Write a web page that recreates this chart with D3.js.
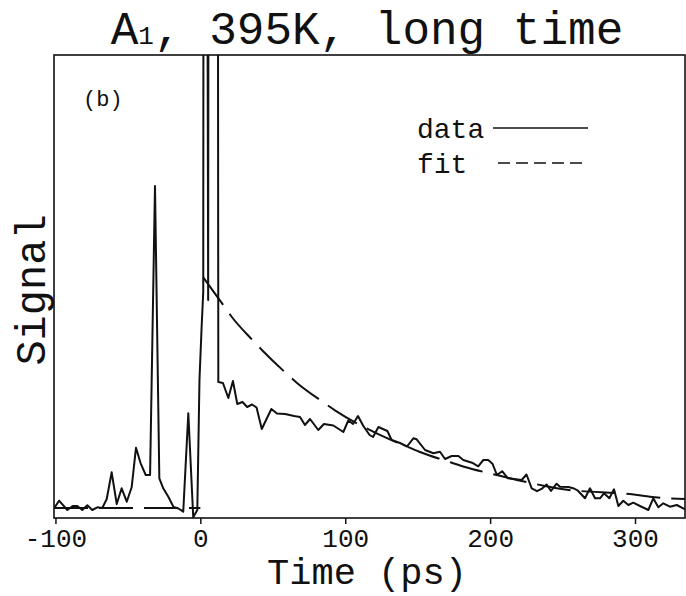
<!DOCTYPE html>
<html>
<head>
<meta charset="utf-8">
<script src="https://cdn.jsdelivr.net/npm/d3@7"></script>
<style>
  html, body { margin: 0; padding: 0; background: #fff; }
  svg { display: block; }
  text { font-family: "Liberation Mono", "DejaVu Sans Mono", monospace; fill: #111; }
</style>
</head>
<body>
<svg id="chart" width="686" height="596"></svg>
<script>
// ---- data ----
const dataTime = [-100.8,-97.5,-91.8,-88.1,-84.9,-81.5,-78.0,-74.6,-71.1,-67.7,-64.6,-61.2,-57.7,-54.3,-50.8,-47.4,-44.4,-41.2,-37.7,-34.7,-31.3,-28.3,-25.6,-22.1,-18.5,-15.1,-11.8,-8.3,-4.9,-2.1,-0.6,0.8,2.0,2.8,5.4,6.4,11.3,12.4,15.6,19.3,22.5,25.5,29.1,32.3,35.7,38.8,42.4,49.0,52.9,58.5,64.7,68.8,72.2,75.7,81.4,85.3,91.8,98.7,102.1,105.4,108.8,112.5,116.8,119.2,122.9,129.1,132.0,137.8,142.6,147.0,149.3,155.1,160.8,165.4,168.9,173.5,178.1,181.5,187.5,191.8,195.3,198.7,201.6,204.7,208.3,212.3,217.8,221.8,225.1,228.7,232.4,236.1,239.0,242.0,245.9,248.2,254.1,257.9,260.6,265.5,268.9,272.4,275.8,278.6,282.3,285.5,288.5,291.9,295.4,298.8,303.4,309.2,312.6,316.1,319.5,324.1,328.8,334.5];
const dataSignal = [0.0,0.73,-0.2,0.2,0.2,-0.2,0.27,-0.2,0.07,0.0,0.9,3.57,0.4,1.97,0.63,2.07,6.03,4.47,3.3,3.3,32.2,2.97,1.97,1.13,0.1,-0.05,-0.37,9.47,-0.93,-0.2,12.8,17.8,21.6,200,20.8,200,200,12.6,12.5,11.0,12.7,10.4,10.6,10.1,10.35,10.05,7.9,9.9,9.45,9.4,9.2,9.1,8.3,8.9,7.8,8.4,8.25,7.6,8.75,8.4,9.2,8.2,7.3,7.1,8.1,7.7,6.8,6.5,6.15,6.97,6.87,5.8,5.47,5.63,4.9,5.2,5.2,4.8,4.53,4.17,4.8,4.8,4.43,3.3,3.68,2.97,2.87,2.8,3.35,1.97,1.68,1.97,2.35,1.7,2.43,2.13,2.1,1.95,1.73,0.97,1.97,0.97,0.97,1.47,0.97,1.87,0.2,0.73,0.3,0.53,0.2,-0.2,0.97,0.07,0.47,0.13,0.3,-0.13];

const fitTime   = [-101, 0, null, 2.0, 15.8, 21.2, 36.6, 43.0, 60.0, 66.5, 85.3, 92.9, 112.5, 121.7, 142.8, 151.1, 173.5, 182.7, 204.5, 213.7, 237.9, 246.0, 301.5, 310.3, 334.5];
const fitSignal = [0, 0, null, 23.07, 20.3, 19.2, 16.7, 15.73, 13.37, 12.53, 10.53, 9.77, 8.13, 7.47, 6.13, 5.63, 4.53, 4.1, 3.3, 2.97, 2.2, 1.97, 1.3, 1.13, 0.9];

const xTickValues = [-100, 0, 100, 200, 300];
const xTickLabels = ["-100", "0", "100", "200", "300"];
const titleMain = "A";
const titleSub = "1";
const titleRest = ", 395K, long time";
const xTitle = "Time (ps)";
const yTitle = "Signal";
const panelLabel = "(b)";
const legendNames = ["data", "fit"];

// ---- layout ----
const svg = d3.select("#chart");
const L = 54, R = 685, T = 55, B = 518;

const x = d3.scaleLinear().domain([-101, 334.5]).range([L, R]);
const y = d3.scaleLinear().domain([-1, 45.3]).range([B, T]);

svg.append("defs").append("clipPath").attr("id", "plotclip")
  .append("rect").attr("x", L).attr("y", T).attr("width", R - L).attr("height", B - T);

const dataPts = dataTime.map((t, i) => ({ t, v: dataSignal[i] }));
const fitPts = fitTime.map((t, i) => ({ t, v: fitSignal[i] }));

const plot = svg.append("g").attr("clip-path", "url(#plotclip)");

const fitLine = d3.line()
  .defined(d => d.t !== null && d.v !== null)
  .x(d => x(d.t)).y(d => y(d.v))
  .curve(d3.curveMonotoneX);

plot.append("path")
  .datum(fitPts)
  .attr("d", fitLine)
  .attr("fill", "none")
  .attr("stroke", "#111")
  .attr("stroke-width", 2)
  .attr("stroke-dasharray", "34,11");

const dataLine = d3.line().x(d => x(d.t)).y(d => y(d.v));
plot.append("path")
  .datum(dataPts)
  .attr("d", dataLine)
  .attr("fill", "none")
  .attr("stroke", "#111")
  .attr("stroke-width", 2)
  .attr("stroke-linejoin", "round");

// frame
svg.append("rect")
  .attr("x", L).attr("y", T).attr("width", R - L).attr("height", B - T)
  .attr("fill", "none").attr("stroke", "#111").attr("stroke-width", 1.6);

// x axis
const xAxis = d3.axisBottom(x)
  .tickValues(xTickValues)
  .tickFormat((d, i) => xTickLabels[i])
  .tickSize(6)
  .tickSizeOuter(0)
  .tickPadding(5);
const gx = svg.append("g").attr("transform", `translate(0,${B})`).call(xAxis);
gx.select(".domain").remove();
gx.selectAll(".tick line").attr("stroke", "#111").attr("stroke-width", 1.5);
gx.selectAll(".tick text")
  .attr("font-family", "Liberation Mono, DejaVu Sans Mono, monospace")
  .attr("font-size", 26).attr("fill", "#111");

// titles
const title = svg.append("text")
  .attr("x", 367).attr("y", 44)
  .attr("text-anchor", "middle")
  .attr("font-size", 46);
title.append("tspan").text(titleMain);
title.append("tspan").attr("font-size", 26).text(titleSub);
title.append("tspan").text(titleRest);

svg.append("text")
  .attr("x", 367).attr("y", 584)
  .attr("text-anchor", "middle")
  .attr("font-size", 37)
  .text(xTitle);

svg.append("text")
  .attr("transform", "translate(45,290) rotate(-90)")
  .attr("text-anchor", "middle")
  .attr("font-size", 42)
  .text(yTitle);

svg.append("text")
  .attr("x", 83).attr("y", 106)
  .attr("font-size", 22)
  .text(panelLabel);

// legend
const lg = svg.append("g");
lg.append("text").attr("x", 417).attr("y", 138).attr("font-size", 28).text(legendNames[0]);
lg.append("line").attr("x1", 493).attr("x2", 588).attr("y1", 128).attr("y2", 128)
  .attr("stroke", "#111").attr("stroke-width", 1.6);
lg.append("text").attr("x", 417).attr("y", 173).attr("font-size", 28).text(legendNames[1]);
lg.append("line").attr("x1", 498).attr("x2", 586).attr("y1", 163).attr("y2", 163)
  .attr("stroke", "#111").attr("stroke-width", 1.6).attr("stroke-dasharray", "12,6");
</script>
</body>
</html>
